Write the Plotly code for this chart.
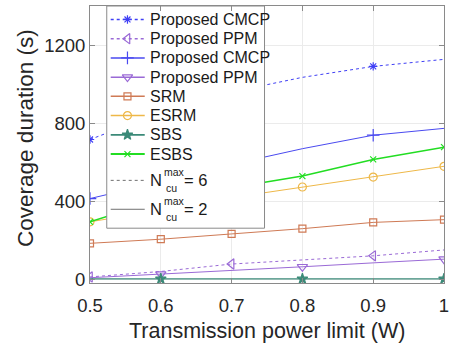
import plotly.graph_objects as go

# Transmission power limit (W)
power = [0.5, 0.6, 0.7, 0.8, 0.9, 1.0]

# Coverage duration (s)
cmcp_n6 = [717, 855, 960, 1035, 1091, 1127]
ppm_n6 = [14, 42, 80, 102, 122, 152]
cmcp_n2 = [415, 500, 590, 670, 739, 774]
ppm_n2 = [10, 28, 48, 66, 86, 105]
srm = [186, 207, 234, 261, 293, 307]
esrm = [296, 355, 420, 474, 525, 580]
sbs = [4, 4, 4, 4, 4, 4]
esbs = [296, 410, 470, 530, 615, 678]

names = ["Proposed CMCP", "Proposed PPM", "Proposed CMCP", "Proposed PPM",
         "SRM", "ESRM", "SBS", "ESBS"]

series = [
    # values, colour, dash, symbol, marker size, line width, marker indices
    (cmcp_n6, "#3f3ff5", "dot", "asterisk-open", 7, 1.0, [0, 2, 4]),
    (ppm_n6, "#9a6ad6", "dot", "triangle-left-open", 9, 1.0, [0, 2, 4]),
    (cmcp_n2, "#4a4af0", "solid", "cross-thin-open", 9, 1.0, [0, 2, 4]),
    (ppm_n2, "#9a6ad6", "solid", "triangle-down-open", 9, 1.0, [1, 3, 5]),
    (srm, "#cf7a55", "solid", "square-open", 7, 1.0, [0, 1, 2, 3, 4, 5]),
    (esrm, "#eeb848", "solid", "circle-open", 8, 1.0, [0, 1, 2, 3, 4, 5]),
    (sbs, "#3b8a78", "solid", "star", 8, 1.4, [1, 3, 5]),
    (esbs, "#22dd22", "solid", "x-thin-open", 6, 1.5, [0, 1, 2, 3, 4, 5]),
]

FONT = "Liberation Sans, Arial"
BOX = "#8a8a8a"

fig = go.Figure()

for vals, color, dash, sym, msize, lw, idx in series:
    fig.add_trace(go.Scatter(
        x=power, y=vals, mode="lines", showlegend=False, hoverinfo="skip",
        line=dict(color=color, width=lw, dash=dash)))
    fig.add_trace(go.Scatter(
        x=[power[i] for i in idx], y=[vals[i] for i in idx], mode="markers",
        showlegend=False,
        marker=dict(symbol=sym, size=msize, color=color,
                    line=dict(color=color, width=1.2))))

# ---- legend, drawn on an overlay axis measured in pixels ----
LX0, LX1, LY0, LY1 = 107, 267, 5, 228
row_y = [18.5, 37.8, 57.1, 76.4, 95.7, 115.0, 134.3, 153.6]
key_y = [180, 209]
sx0, sx1, sxm, tx = 111, 145.5, 128, 148.5

fig.add_trace(go.Scatter(
    x=[LX0, LX1, LX1, LX0, LX0], y=[LY0, LY0, LY1, LY1, LY0],
    xaxis="x2", yaxis="y2", mode="lines", fill="toself", fillcolor="white",
    line=dict(color=BOX, width=1), showlegend=False, hoverinfo="skip"))

annotations = []
for ry, name, (vals, color, dash, sym, msize, lw, idx) in zip(row_y, names, series):
    fig.add_trace(go.Scatter(
        x=[sx0, sx1], y=[ry, ry], xaxis="x2", yaxis="y2", mode="lines",
        line=dict(color=color, width=lw + 0.5, dash=dash),
        showlegend=False, hoverinfo="skip"))
    fig.add_trace(go.Scatter(
        x=[sxm], y=[ry], xaxis="x2", yaxis="y2", mode="markers",
        marker=dict(symbol=sym, size=msize, color=color,
                    line=dict(color=color, width=1.2)),
        showlegend=False, hoverinfo="skip"))
    annotations.append(dict(
        text=name, x=tx, y=ry, xref="x2", yref="y2", xanchor="left",
        yanchor="middle", showarrow=False,
        font=dict(family=FONT, size=16, color="#1a1a1a")))

for ky, dash, n in zip(key_y, ["dot", "solid"], ["6", "2"]):
    fig.add_trace(go.Scatter(
        x=[sx0, sx1], y=[ky, ky], xaxis="x2", yaxis="y2", mode="lines",
        line=dict(color="#707070", width=1, dash=dash),
        showlegend=False, hoverinfo="skip"))
    annotations += [
        dict(text="N", x=tx, y=ky, xref="x2", yref="y2", xanchor="left",
             yanchor="middle", showarrow=False,
             font=dict(family=FONT, size=16.5, color="#1a1a1a")),
        dict(text="max", x=163.5, y=ky - 8, xref="x2", yref="y2", xanchor="left",
             yanchor="middle", showarrow=False,
             font=dict(family=FONT, size=10.5, color="#1a1a1a")),
        dict(text="cu", x=165, y=ky + 8, xref="x2", yref="y2", xanchor="left",
             yanchor="middle", showarrow=False,
             font=dict(family=FONT, size=10.5, color="#1a1a1a")),
        dict(text="= " + n, x=183.5, y=ky, xref="x2", yref="y2", xanchor="left",
             yanchor="middle", showarrow=False,
             font=dict(family=FONT, size=16.5, color="#1a1a1a")),
    ]

axis_common = dict(
    showline=True, linecolor=BOX, linewidth=1, mirror="ticks",
    ticks="inside", ticklen=5, tickcolor=BOX,
    showgrid=True, gridcolor="#ebebeb", gridwidth=1, zeroline=False,
    tickfont=dict(family=FONT, size=18.5, color="#262626"),
)

annotations += [
    dict(text="Transmission power limit (W)", xref="paper", yref="paper",
         x=(270 - 90) / 359, y=-(331 - 283) / 278, xanchor="center",
         yanchor="middle", showarrow=False,
         font=dict(family=FONT, size=21.5, color="#262626")),
    dict(text="Coverage duration (s)", xref="paper", yref="paper",
         x=(24 - 90) / 359, y=(283 - 137.5) / 278, xanchor="center",
         yanchor="middle", showarrow=False, textangle=-90,
         font=dict(family=FONT, size=22.5, color="#262626")),
]

fig.update_layout(
    width=454, height=347,
    margin=dict(l=90, r=5, t=5, b=64),
    paper_bgcolor="white", plot_bgcolor="white",
    showlegend=False,
    xaxis=dict(range=[0.5, 1.0], tickvals=[0.5, 0.6, 0.7, 0.8, 0.9, 1.0],
               ticktext=["0.5", "0.6", "0.7", "0.8", "0.9", "1"],
               ticklabeloverflow="allow", ticklabelstandoff=6, **axis_common),
    yaxis=dict(range=[-17, 1400], tickvals=[0, 400, 800, 1200], **axis_common),
    xaxis2=dict(range=[90, 449], overlaying="x", visible=False, fixedrange=True),
    yaxis2=dict(range=[283, 5], overlaying="y", visible=False, fixedrange=True),
    annotations=annotations,
)

fig.write_html("out.html")
